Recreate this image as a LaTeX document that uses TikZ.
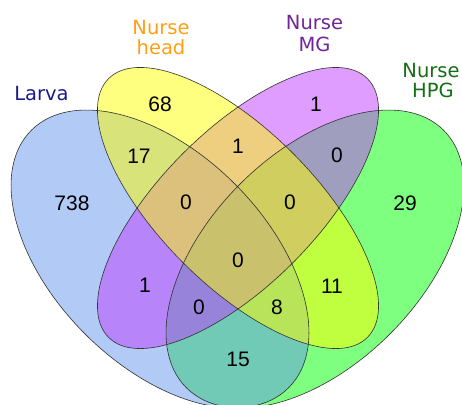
\documentclass[tikz,border=0pt]{standalone}
\usepackage{fontspec}
\setmainfont{DejaVu Sans}
\newfontfamily\numfont{Liberation Sans}
\definecolor{larvac}{RGB}{100,149,237}
\definecolor{headc}{RGB}{255,255,0}
\definecolor{mgc}{RGB}{191,62,255}
\definecolor{hpgc}{RGB}{0,255,0}
\definecolor{larvat}{RGB}{26,26,140}
\definecolor{headt}{RGB}{255,160,20}
\definecolor{mgt}{RGB}{112,38,150}
\definecolor{hpgt}{RGB}{20,110,20}
\definecolor{edgec}{RGB}{50,50,50}
\tikzset{
  setfill/.style={fill=#1, fill opacity=0.5},
  setedge/.style={draw=edgec, line width=0.6pt},
  num/.style={font=\numfont\fontsize{21}{21}\selectfont, inner sep=0pt, text=black},
  lab/.style={font=\fontsize{19.5}{19.5}\selectfont, inner sep=0pt, anchor=base, text=#1},
}
\begin{document}
\begin{tikzpicture}[x=1pt, y=-1pt]
\useasboundingbox (0,0) rectangle (462,404);
\clip (0,0) rectangle (462,404);
% fills (order: HPG, Larva, MG, Head)
\fill[setfill=hpgc, rotate around={45:(315,259)}] (315,259) ellipse [x radius=182pt, y radius=106pt];
\fill[setfill=larvac, rotate around={-45:(160,259)}] (160,259) ellipse [x radius=182pt, y radius=106pt];
\fill[setfill=mgc, rotate around={45:(238,208)}] (238,208) ellipse [x radius=183pt, y radius=77.5pt];
\fill[setfill=headc, rotate around={-45:(238,208)}] (238,208) ellipse [x radius=183pt, y radius=77.5pt];
% outlines
\draw[setedge, rotate around={45:(315,259)}] (315,259) ellipse [x radius=182pt, y radius=106pt];
\draw[setedge, rotate around={-45:(160,259)}] (160,259) ellipse [x radius=182pt, y radius=106pt];
\draw[setedge, rotate around={45:(238,208)}] (238,208) ellipse [x radius=183pt, y radius=77.5pt];
\draw[setedge, rotate around={-45:(238,208)}] (238,208) ellipse [x radius=183pt, y radius=77.5pt];
% set labels
\node[lab=larvat] (larva) at (41.5,100) {Larva};
\node[lab=headt] (headA) at (161,34.3) {Nurse};
\node[lab=headt] (headB) at (161,55) {head};
\node[lab=mgt] (mgA) at (314.5,30) {Nurse};
\node[lab=mgt] (mgB) at (314.5,51.7) {MG};
\node[lab=hpgt] (hpgA) at (431,77.5) {Nurse};
\node[lab=hpgt] (hpgB) at (433,97) {HPG};
% counts
\node[num] (n1000) at (72,203) {738};
\node[num] (n0100) at (160,104) {68};
\node[num] (n1100) at (139,156) {17};
\node[num] (n0110) at (238,146) {1};
\node[num] (n0010) at (316,104) {1};
\node[num] (n0011) at (337,155) {0};
\node[num] (n0001) at (405,203) {29};
\node[num] (n1110) at (186,202) {0};
\node[num] (n0111) at (290,202) {0};
\node[num] (n1111) at (238,260) {0};
\node[num] (n1010) at (145,285) {1};
\node[num] (n1011) at (199,307) {0};
\node[num] (n1101) at (277,307) {8};
\node[num] (n0101) at (332,286) {11};
\node[num] (n1001) at (238,359) {15};
\end{tikzpicture}
\end{document}
